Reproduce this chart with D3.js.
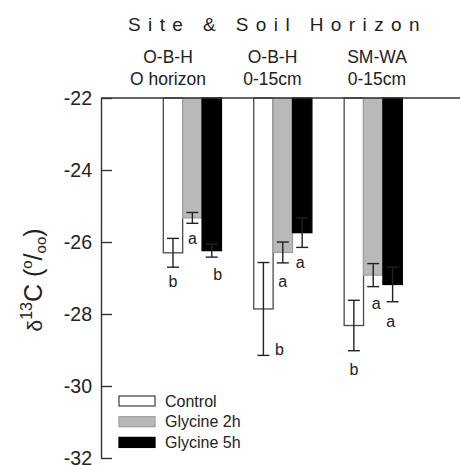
<!doctype html>
<html>

<head>
    <meta charset="utf-8">
    <title>delta 13C bar chart</title>
    <style>
        body { margin: 0; background: #fff; }
        svg { font-family: "Liberation Sans", Arial, sans-serif; }
    </style>
    <script src="https://d3js.org/d3.v7.min.js"></script>
</head>

<body>
    <svg width="460" height="465"></svg>
    <script>

        // data
        var categories = ["O-B-H|O horizon", "O-B-H|0-15cm", "SM-WA|0-15cm"];
        var series = ["Control", "Glycine 2h", "Glycine 5h"];
        var means = [
            [-26.30, -25.33, -26.24],
            [-27.86, -26.29, -25.74],
            [-28.32, -26.92, -27.18]
        ];
        var errors = [
            [0.40, 0.15, 0.18],
            [1.29, 0.29, 0.41],
            [0.70, 0.32, 0.48]
        ];
        var letters = [
            ["b", "a", "b"],
            ["b", "a", "a"],
            ["b", "a", "a"]
        ];
        var yTicks = [-22, -24, -26, -28, -30, -32];

        var fills = { "Control": "#fff", "Glycine 2h": "#b9b9b9", "Glycine 5h": "#000" };
        var strokes = { "Control": "#4a4a4a", "Glycine 2h": "#a0a0a0", "Glycine 5h": "#000" };

        var svg = d3.select("svg");

        var y = d3.scaleLinear().domain([-22, -32]).range([98, 458]);
        var xGroup = d3.scaleBand().domain(categories).range([163.3, 402.3]).paddingInner(0.357).paddingOuter(0);
        var xSeries = d3.scaleBand().domain(series).range([0, xGroup.bandwidth()]);
        var xHead = d3.scalePoint().domain(categories).range([168, 377]);

        // flatten for drawing
        var rows = [];
        categories.forEach(function (c, i) {
            series.forEach(function (s, j) {
                rows.push({ cat: c, ser: s, v: means[i][j], e: errors[i][j], l: letters[i][j], i: i, j: j });
            });
        });

        // letter offsets next to the lower whisker (dx, dy)
        var letterOff = [
            [[0, 20], [0, 21], [6, 23]],
            [[16, 0], [0, 24], [-2, 21]],
            [[0, 24], [3, 22], [-2, 25]]
        ];

        // title
        svg.append("text")
            .attr("x", 128)
            .attr("y", 31)
            .attr("font-size", "19px")
            .attr("letter-spacing", "7.4px")
            .attr("fill", "#222")
            .text("Site & Soil Horizon");

        // category headers
        var head = svg.selectAll(".head")
            .data(categories)
            .enter().append("text")
            .attr("class", "head")
            .attr("text-anchor", "middle")
            .attr("font-size", "17.5px")
            .attr("fill", "#222");
        head.append("tspan")
            .attr("x", function (d) { return xHead(d); })
            .attr("y", 63)
            .text(function (d) { return d.split("|")[0]; });
        head.append("tspan")
            .attr("x", function (d) { return xHead(d); })
            .attr("y", 85)
            .text(function (d) { return d.split("|")[1]; });

        // bars hang down from -22
        svg.selectAll(".bar")
            .data(rows)
            .enter().append("rect")
            .attr("class", "bar")
            .attr("x", function (d) { return xGroup(d.cat) + xSeries(d.ser); })
            .attr("y", y(-22))
            .attr("width", xSeries.bandwidth())
            .attr("height", function (d) { return y(d.v) - y(-22); })
            .attr("fill", function (d) { return fills[d.ser]; })
            .attr("stroke", function (d) { return strokes[d.ser]; })
            .attr("stroke-width", 1.3);

        // error bars
        var eb = svg.selectAll(".err")
            .data(rows)
            .enter().append("g")
            .attr("class", "err")
            .attr("stroke", "#222")
            .attr("stroke-width", 1.4)
            .attr("transform", function (d) {
                return "translate(" + (xGroup(d.cat) + xSeries(d.ser) + xSeries.bandwidth() / 2) + ",0)";
            });
        eb.append("line")
            .attr("y1", function (d) { return y(d.v + d.e); })
            .attr("y2", function (d) { return y(d.v - d.e); });
        eb.append("line")
            .attr("x1", -6).attr("x2", 6)
            .attr("y1", function (d) { return y(d.v + d.e); })
            .attr("y2", function (d) { return y(d.v + d.e); });
        eb.append("line")
            .attr("x1", -6).attr("x2", 6)
            .attr("y1", function (d) { return y(d.v - d.e); })
            .attr("y2", function (d) { return y(d.v - d.e); });

        // significance letters
        svg.selectAll(".letter")
            .data(rows)
            .enter().append("text")
            .attr("class", "letter")
            .attr("text-anchor", "middle")
            .attr("font-size", "16px")
            .attr("fill", "#222")
            .attr("x", function (d) { return xGroup(d.cat) + xSeries(d.ser) + xSeries.bandwidth() / 2 + letterOff[d.i][d.j][0]; })
            .attr("y", function (d) { return y(d.v - d.e) + letterOff[d.i][d.j][1]; })
            .text(function (d) { return d.l; });

        // y axis, ticks pointing inward
        var yAxis = svg.append("g")
            .attr("transform", "translate(101,0)")
            .call(d3.axisLeft(y).tickValues(yTicks).tickSizeInner(-11).tickSizeOuter(0).tickPadding(9)
                .tickFormat(function (d) { return "-" + Math.abs(d); }));
        yAxis.select(".domain").attr("stroke", "#333").attr("stroke-width", 1.4);
        yAxis.selectAll(".tick line").attr("stroke", "#333").attr("stroke-width", 1.4);
        yAxis.selectAll(".tick text")
            .attr("font-size", "19.5px")
            .attr("font-family", "Liberation Sans, Arial, sans-serif")
            .attr("fill", "#222");

        // top frame line at -22
        svg.append("line")
            .attr("x1", 101).attr("x2", 460)
            .attr("y1", y(-22)).attr("y2", y(-22))
            .attr("stroke", "#333")
            .attr("stroke-width", 1.4);

        // y label
        var yl = svg.append("text")
            .attr("transform", "translate(42,280) rotate(-90)")
            .attr("text-anchor", "middle")
            .attr("font-size", "25px")
            .attr("fill", "#222");
        yl.append("tspan").attr("font-size", "21px").text("\u03b4");
        yl.append("tspan").attr("font-size", "16px").attr("dy", -10).text("13");
        yl.append("tspan").attr("dy", 10).text("C (");
        yl.append("tspan").attr("font-size", "15px").attr("dy", -10).text("o");
        yl.append("tspan").attr("dy", 10).text("/");
        yl.append("tspan").attr("font-size", "15px").attr("dy", 4).text("oo");
        yl.append("tspan").attr("dy", -4).text(")");

        // legend
        var leg = svg.selectAll(".leg")
            .data(series)
            .enter().append("g")
            .attr("class", "leg")
            .attr("transform", function (d, i) { return "translate(119," + (396 + i * 20.7) + ")"; });
        leg.append("rect")
            .attr("width", 36)
            .attr("height", 10)
            .attr("fill", function (d) { return fills[d]; })
            .attr("stroke", function (d) { return strokes[d]; })
            .attr("stroke-width", 1.3);
        leg.append("text")
            .attr("x", 46)
            .attr("y", 10.5)
            .attr("font-size", "16px")
            .attr("fill", "#222")
            .text(function (d) { return d; });

    </script>
</body>

</html>
